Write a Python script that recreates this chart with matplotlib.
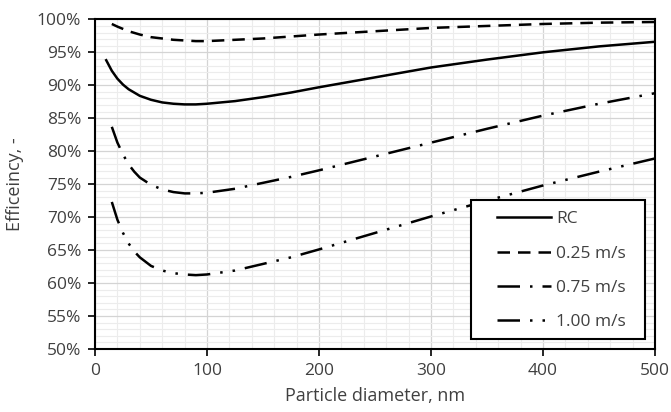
import matplotlib
matplotlib.use("Agg")
import matplotlib.pyplot as plt
from matplotlib.patches import Rectangle
from matplotlib.ticker import MultipleLocator, FuncFormatter

# values (efficiency in %)
rc_x = [10, 15, 20, 25, 30, 40, 50, 60, 70, 80, 90, 100, 125, 150, 175, 200,
        250, 300, 350, 400, 450, 500]
rc_y = [93.8, 92.2, 91.0, 90.1, 89.4, 88.4, 87.8, 87.4, 87.2, 87.1, 87.1,
        87.2, 87.6, 88.2, 88.9, 89.7, 91.2, 92.7, 93.9, 95.0, 95.9, 96.6]

v025_x = [15, 20, 30, 40, 50, 60, 70, 80, 90, 100, 125, 150, 200, 250, 300,
          350, 400, 450, 500]
v025_y = [99.3, 98.9, 98.2, 97.7, 97.3, 97.1, 96.9, 96.8, 96.7, 96.7, 96.9,
          97.1, 97.7, 98.2, 98.7, 99.0, 99.3, 99.5, 99.6]

v075_x = [15, 20, 25, 30, 35, 40, 50, 60, 70, 80, 90, 100, 125, 150, 175,
          200, 250, 300, 350, 400, 450, 500]
v075_y = [83.7, 81.3, 79.5, 78.0, 76.9, 76.0, 74.9, 74.2, 73.8, 73.6, 73.6,
          73.7, 74.3, 75.2, 76.1, 77.1, 79.2, 81.3, 83.4, 85.4, 87.2, 88.8]

v100_x = [15, 20, 25, 30, 35, 40, 50, 60, 70, 80, 90, 100, 125, 150, 175,
          200, 250, 300, 350, 400, 450, 500]
v100_y = [72.3, 69.6, 67.6, 66.0, 64.8, 63.9, 62.6, 61.9, 61.5, 61.3, 61.2,
          61.3, 61.9, 62.9, 63.9, 65.1, 67.6, 70.1, 72.5, 74.8, 76.9, 78.9]

labels = ["RC", "0.25 m/s", "0.75 m/s", "1.00 m/s"]

TXT = "#404040"
plt.rcParams["font.family"] = ["Open Sans", "DejaVu Sans"]

fig = plt.figure(figsize=(6.71, 4.12), dpi=100)
ax = fig.add_axes([0.1416, 0.153, 0.8346, 0.800])

lw = 1.8
ax.plot(rc_x, rc_y, color="black", lw=lw, label=labels[0])
ax.plot(v025_x, v025_y, color="black", lw=lw, dashes=(5, 3.2), label=labels[1])
ax.plot(v075_x, v075_y, color="black", lw=lw, dashes=(9, 4, 1, 4), label=labels[2])
ax.plot(v100_x, v100_y, color="black", lw=lw,
        dashes=(9, 4, 1, 4, 1, 4), label=labels[3])

ax.set_xlim(0, 500)
ax.set_ylim(50, 100)
ax.xaxis.set_major_locator(MultipleLocator(100))
ax.xaxis.set_minor_locator(MultipleLocator(20))
ax.yaxis.set_major_locator(MultipleLocator(5))
ax.yaxis.set_minor_locator(MultipleLocator(1))
ax.yaxis.set_major_formatter(FuncFormatter(lambda v, p: f"{v:.0f}%"))

ax.grid(which="major", color="#d4d4d4", lw=0.9)
ax.grid(which="minor", color="#ececec", lw=0.8)
ax.set_axisbelow(True)

for s in ax.spines.values():
    s.set_color("black")
    s.set_linewidth(1.5)

ax.tick_params(which="major", direction="out", length=5, width=1.2,
               colors="black", labelcolor=TXT, labelsize=12.5, pad=5)
ax.tick_params(which="minor", length=0)

ax.set_xlabel("Particle diameter, nm", fontsize=13, color=TXT, labelpad=6)
ax.set_ylabel("Efficeincy, -", fontsize=13, color=TXT, labelpad=9)

# legend box drawn separately so the entries can sit where the original has them
ax.add_patch(Rectangle((0.671, 0.030), 0.311, 0.422, transform=ax.transAxes,
                       facecolor="white", edgecolor="black", lw=1.5, zorder=4))
leg = ax.legend(loc="upper left", bbox_to_anchor=(0.718, 0.418),
                handlelength=3.1, handletextpad=0.3, labelspacing=1.05,
                borderpad=0, borderaxespad=0, frameon=False, fontsize=12.5)
leg.set_zorder(5)
for t in leg.get_texts():
    t.set_color(TXT)

fig.savefig("out.png", dpi=100)
